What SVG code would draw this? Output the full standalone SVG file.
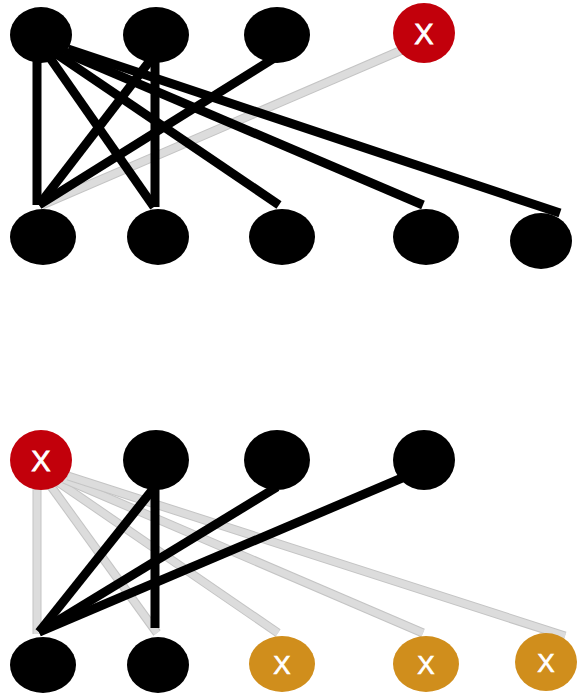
<svg xmlns="http://www.w3.org/2000/svg" width="577" height="695" viewBox="0 0 577 695">
<style>
.k{fill:#000}
.r{fill:#c2000b}
.o{fill:#d08e1c}
.e{stroke:#000;stroke-width:9;fill:none;stroke-linecap:butt}
.g{stroke:#c4c4c4;stroke-width:9;fill:none;stroke-linecap:butt}
.gi{stroke:#dcdcdc;stroke-width:7;fill:none;stroke-linecap:butt}
.t{fill:#fff;stroke:#fff;stroke-width:0.8;font-family:"Liberation Sans",Arial,sans-serif;font-size:29px;text-anchor:middle}
.t2{fill:#fff;stroke:#fff;stroke-width:0.7;font-family:"Liberation Sans",Arial,sans-serif;font-size:26px;text-anchor:middle}
</style>
<rect width="577" height="695" fill="#fff"/>
<g id="connectors">
<!-- top graph -->
<line class="g" x1="402" y1="50" x2="42" y2="205"/>
<line class="gi" x1="402" y1="50" x2="42" y2="205"/>
<line class="e" x1="37" y1="58" x2="37" y2="205"/>
<line class="e" x1="50" y1="58" x2="154" y2="207"/>
<line class="e" x1="58" y1="55" x2="279" y2="205"/>
<line class="e" x1="64" y1="52" x2="423" y2="205"/>
<line class="e" x1="68" y1="49" x2="560" y2="213"/>
<line class="e" x1="152" y1="58" x2="39" y2="205"/>
<line class="e" x1="155" y1="58" x2="155" y2="207"/>
<line class="e" x1="276" y1="57" x2="39" y2="205"/>
<!-- bottom graph -->
<line class="g" x1="37" y1="488" x2="37" y2="634"/>
<line class="gi" x1="37" y1="488" x2="37" y2="634"/>
<line class="g" x1="50" y1="485" x2="157" y2="633"/>
<line class="gi" x1="50" y1="485" x2="157" y2="633"/>
<line class="g" x1="58" y1="482" x2="278" y2="633"/>
<line class="gi" x1="58" y1="482" x2="278" y2="633"/>
<line class="g" x1="64" y1="479" x2="423" y2="633"/>
<line class="gi" x1="64" y1="479" x2="423" y2="633"/>
<line class="g" x1="68" y1="476" x2="565" y2="636"/>
<line class="gi" x1="68" y1="476" x2="565" y2="636"/>
<line class="e" x1="153" y1="489" x2="39" y2="632"/>
<line class="e" x1="155" y1="489" x2="155" y2="628"/>
<line class="e" x1="277" y1="487" x2="39" y2="632"/>
<line class="e" x1="402" y1="478" x2="39" y2="632"/>
</g>
<g id="t1"><ellipse class="k" cx="41" cy="35" rx="31" ry="28"/></g>
<g id="t2"><ellipse class="k" cx="156" cy="35" rx="33" ry="28"/></g>
<g id="t3"><ellipse class="k" cx="277" cy="35" rx="33" ry="28"/></g>
<g id="t4"><ellipse class="r" cx="424" cy="33" rx="31" ry="30"/><text class="t" x="424" y="43.5">X</text></g>
<g id="b1"><ellipse class="k" cx="43" cy="237" rx="33" ry="28"/></g>
<g id="b2"><ellipse class="k" cx="158" cy="237" rx="31" ry="28"/></g>
<g id="b3"><ellipse class="k" cx="282" cy="237" rx="33" ry="28"/></g>
<g id="b4"><ellipse class="k" cx="426" cy="237" rx="33" ry="28"/></g>
<g id="b5"><ellipse class="k" cx="541" cy="241" rx="31" ry="28"/></g>
<g id="t5"><ellipse class="r" cx="41" cy="460" rx="31" ry="30"/><text class="t" x="41" y="470.5">X</text></g>
<g id="t6"><ellipse class="k" cx="156" cy="460" rx="33" ry="30"/></g>
<g id="t7"><ellipse class="k" cx="277" cy="460" rx="33" ry="30"/></g>
<g id="t8"><ellipse class="k" cx="424" cy="460" rx="31" ry="30"/></g>
<g id="b6"><ellipse class="k" cx="43" cy="665" rx="33" ry="28"/></g>
<g id="b7"><ellipse class="k" cx="158" cy="665" rx="31" ry="28"/></g>
<g id="b8"><ellipse class="o" cx="282" cy="664" rx="33" ry="28"/><text class="t2" x="282" y="673.5">X</text></g>
<g id="b9"><ellipse class="o" cx="426" cy="664" rx="33" ry="28"/><text class="t2" x="426" y="673.5">X</text></g>
<g id="b10"><ellipse class="o" cx="546" cy="662" rx="31" ry="29"/><text class="t2" x="546" y="671.5">X</text></g>
</svg>
